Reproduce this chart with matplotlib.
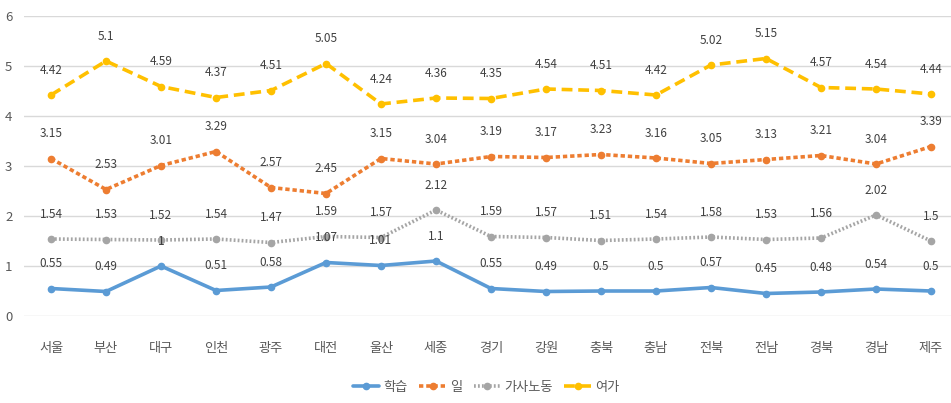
import matplotlib
matplotlib.use("Agg")
import matplotlib.pyplot as plt

plt.rcParams['font.family'] = ['Noto Sans CJK KR', 'DejaVu Sans']

regions = ['서울', '부산', '대구', '인천', '광주', '대전', '울산', '세종', '경기',
           '강원', '충북', '충남', '전북', '전남', '경북', '경남', '제주']
study = [0.55, 0.49, 1, 0.51, 0.58, 1.07, 1.01, 1.1, 0.55, 0.49, 0.5, 0.5, 0.57, 0.45, 0.48, 0.54, 0.5]
work = [3.15, 2.53, 3.01, 3.29, 2.57, 2.45, 3.15, 3.04, 3.19, 3.17, 3.23, 3.16, 3.05, 3.13, 3.21, 3.04, 3.39]
house = [1.54, 1.53, 1.52, 1.54, 1.47, 1.59, 1.57, 2.12, 1.59, 1.57, 1.51, 1.54, 1.58, 1.53, 1.56, 2.02, 1.5]
leisure = [4.42, 5.1, 4.59, 4.37, 4.51, 5.05, 4.24, 4.36, 4.35, 4.54, 4.51, 4.42, 5.02, 5.15, 4.57, 4.54, 4.44]
series_names = ['학습', '일', '가사노동', '여가']
y_ticks = [0, 1, 2, 3, 4, 5, 6]

fig = plt.figure(figsize=(9.51, 4.03), dpi=100)
ax = fig.add_axes([23.5 / 951, (403 - 316) / 403, 935 / 951, 300 / 403])

x = list(range(len(regions)))
styles = [
    (study, '#5B9BD5', '-'),
    (work, '#ED7D31', (0, (1.2, 0.8))),
    (house, '#A5A5A5', (0, (0.5, 0.6))),
    (leisure, '#FFC000', (0, (3.0, 1.6))),
]
for (vals, col, ls), name in zip(styles, series_names):
    ax.plot(x, vals, color=col, linestyle=ls, linewidth=2.6, marker='o',
            markersize=4.5, markerfacecolor=col, markeredgecolor=col, label=name,
            dash_capstyle='butt', solid_capstyle='round')
    for xi, v in zip(x, vals):
        ax.annotate(f'{v:g}', (xi, v), xytext=(0, 13), textcoords='offset points',
                    ha='center', va='bottom', fontsize=8.5, color='#404040')

ax.set_xlim(-0.5, 16.5)
ax.set_ylim(0, 6)
ax.set_yticks(y_ticks)
ax.set_yticklabels([str(t) for t in y_ticks])
ax.set_xticks(x)
ax.set_xticklabels(regions)
ax.grid(axis='y', color='#D9D9D9', linewidth=1)
ax.set_axisbelow(True)
for s in ax.spines.values():
    s.set_visible(False)
ax.tick_params(axis='both', length=0, colors='#595959', labelsize=9.5)
ax.tick_params(axis='y', pad=8)
ax.tick_params(axis='x', pad=19)

leg = fig.legend(loc='center', bbox_to_anchor=(486 / 951, 1 - 387 / 403), ncol=4,
                 frameon=False, fontsize=9.5, handlelength=2.0, columnspacing=0.9,
                 handletextpad=0.3)
for t in leg.get_texts():
    t.set_color('#595959')

fig.savefig('out.png', dpi=100)
